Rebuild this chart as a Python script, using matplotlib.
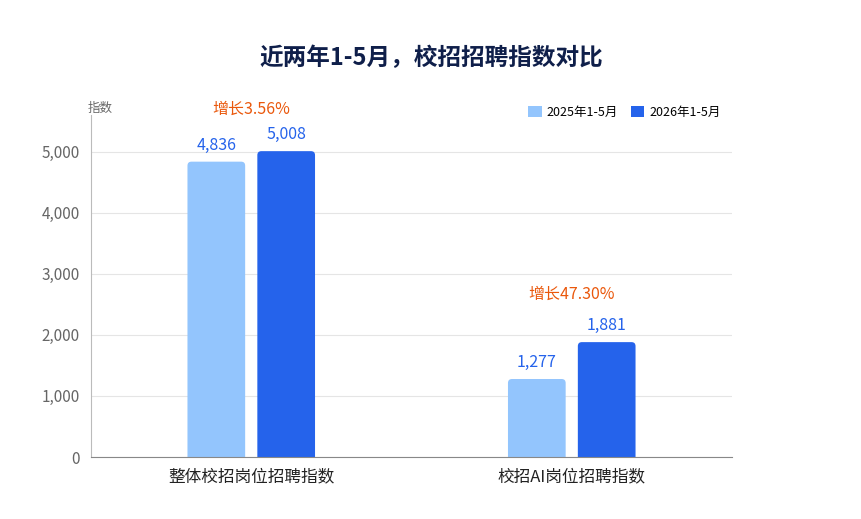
import matplotlib
matplotlib.use("Agg")
import matplotlib.pyplot as plt
from matplotlib.patches import FancyBboxPatch

plt.rcParams['font.family'] = ['Noto Sans CJK SC', 'DejaVu Sans']

categories = ["整体校招岗位招聘指数", "校招AI岗位招聘指数"]
series_names = ["2025年1-5月", "2026年1-5月"]
v2025 = [4836, 1277]
v2026 = [5008, 1881]
growth = ["增长3.56%", "增长47.30%"]
yticks = [0, 1000, 2000, 3000, 4000, 5000]

c1, c2 = "#93C5FD", "#2563EB"
fig = plt.figure(figsize=(8.62, 5.19), dpi=100)
ax = fig.add_axes([91/862, 1-457/519, 641/862, (457-115)/519])
x = list(range(len(categories)))
w, off = 0.18, 0.109
b1 = ax.bar([i - off for i in x], v2025, w, color=c1, label=series_names[0], zorder=3)
b2 = ax.bar([i + off for i in x], v2026, w, color=c2, label=series_names[1], zorder=3)
ax.set_xlim(-0.5, 1.5)
ax.set_ylim(0, 5600)
# rounded corners
ypx = 5600 / (457 - 115)
xpx = 2.0 / 641
for bars in (b1, b2):
    for r in bars:
        r.set_visible(False)
        p = FancyBboxPatch((r.get_x(), -6 * ypx), r.get_width(), r.get_height() + 6 * ypx,
                           boxstyle="round,pad=0,rounding_size=%f" % (4 * xpx),
                           mutation_aspect=ypx / xpx, facecolor=r.get_facecolor(),
                           edgecolor='none', zorder=3)
        ax.add_patch(p)
        ax.text(r.get_x()+r.get_width()/2, r.get_height()+130, f"{int(r.get_height()):,}",
                ha='center', va='bottom', color="#2563EB", fontsize=11.5)
for i in x:
    top = max(v2025[i], v2026[i])
    ax.text(i, top + (550 if i == 0 else 640), growth[i], ha='center', va='bottom', color="#EA580C", fontsize=11.5)
ax.set_yticks(yticks)
ax.set_yticklabels([f"{v:,}" for v in yticks], color="#666666", fontsize=11)
ax.set_xticks(x)
ax.set_xticklabels(categories, fontsize=12, color="#222222")
ax.tick_params(length=0, pad=8)
ax.grid(axis='y', color="#E5E5E5", lw=0.8, zorder=0)
for s in ['top', 'right']:
    ax.spines[s].set_visible(False)
ax.spines['left'].set_color("#BBBBBB")
ax.spines['bottom'].set_color("#888888")
ax.spines['bottom'].set_zorder(4)
ax.text(-0.005, 1.0, "指数", transform=ax.transAxes, ha='left', va='bottom', fontsize=9, color="#666666")
ax.legend(handles=[b1, b2], loc='upper right', bbox_to_anchor=(1.0, 1.06), ncol=2, frameon=False, fontsize=9,
          handlelength=1.1, handleheight=0.9, columnspacing=1.0, handletextpad=0.4)
for h in ax.get_legend().legend_handles:
    h.set_visible(True)
fig.text(0.5, 1-58/519, "近两年1-5月，校招招聘指数对比", ha='center', va='center',
         fontsize=17, fontweight='bold', color="#0F1F4A")
fig.savefig("out.png", dpi=100)
